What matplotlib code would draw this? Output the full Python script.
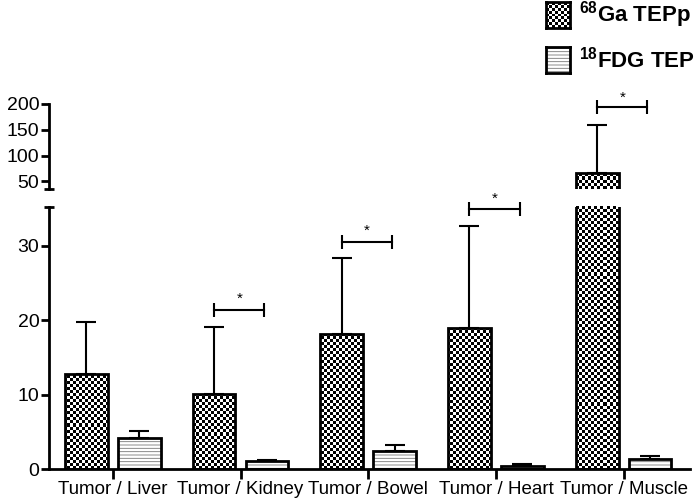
import numpy as np
import matplotlib
matplotlib.use("agg")
import matplotlib.pyplot as plt
from matplotlib.patches import Rectangle

plt.rcParams['font.family'] = ['Liberation Sans', 'DejaVu Sans']
plt.rcParams['mathtext.fontset'] = 'custom'
plt.rcParams['mathtext.rm'] = 'Liberation Sans'
plt.rcParams['mathtext.bf'] = 'Liberation Sans:bold'
plt.rcParams['hatch.linewidth'] = 0.6
plt.rcParams['hatch.color'] = '#777777'

## values
categories = ["Tumor / Liver", "Tumor / Kidney", "Tumor / Bowel", "Tumor / Heart", "Tumor / Muscle"]
ga_mean = [12.8, 10.1, 18.1, 18.9, 67.0]
ga_sd = [7.0, 9.0, 10.2, 13.7, 93.0]
fdg_mean = [4.2, 1.1, 2.4, 0.4, 1.3]
fdg_sd = [0.9, 0.05, 0.8, 0.3, 0.45]
sig_cat = [1, 2, 3, 4]
sig_y = [21.4, 30.5, 34.9, 194.0]
ga_label = r"$\mathbf{^{68}}$Ga TEPp"
fdg_label = r"$\mathbf{^{18}}$FDG TEP"

W, H = 700, 501
fig = plt.figure(figsize=(W / 100, H / 100), dpi=100)
ax_lo = fig.add_axes([49 / W, 1 - 469 / H, 641 / W, 262 / H])
ax_hi = fig.add_axes([49 / W, 1 - 189 / H, 641 / W, 85 / H])
lo_lim = (0, 35.2)
hi_lim = (35, 200)

x = np.arange(len(categories))
off = 0.207
bw = 0.335


def checker(ax, patch, cell=3.0):
    bb = ax.get_position()
    cols = int(round(bb.width * W / cell))
    rows = int(round(bb.height * H / cell))
    arr = np.indices((rows, cols)).sum(axis=0) % 2
    im = ax.imshow(arr, cmap='gray', extent=(0, 1, 0, 1), transform=ax.transAxes,
                   aspect='auto', interpolation='nearest', zorder=2)
    im.set_clip_path(patch)


for ax, lim in ((ax_lo, lo_lim), (ax_hi, hi_lim)):
    ga = ax.bar(x - off, ga_mean, bw, color='white', linewidth=0, zorder=1)
    for p in ga.patches:
        checker(ax, p)
    ax.bar(x - off, ga_mean, bw, fill=False, edgecolor='black', linewidth=2, zorder=3)
    ax.bar(x + off, fdg_mean, bw, color='white', edgecolor='#777777', hatch='-----',
           linewidth=0, zorder=1)
    ax.bar(x + off, fdg_mean, bw, fill=False, edgecolor='black', linewidth=2, zorder=3)

    # only the error bars whose top lands inside this panel
    for xs, m, sd in ((x - off, ga_mean, ga_sd), (x + off, fdg_mean, fdg_sd)):
        m = np.array(m)
        sd = np.array(sd)
        keep = (m + sd > lim[0]) & (m + sd < lim[1])
        if keep.any():
            ax.errorbar(xs[keep], m[keep], yerr=[np.zeros(keep.sum()), sd[keep]], fmt='none',
                        ecolor='black', elinewidth=1.5, capsize=7, capthick=1.5, zorder=0.5)

    for s in ('top', 'right'):
        ax.spines[s].set_visible(False)
    ax.spines['left'].set_linewidth(2)
    ax.tick_params(axis='y', labelsize=14, width=2, length=6, pad=1)
    ax.set_xlim(-0.5, 4.52)

# significance brackets
for c, yv in zip(sig_cat, sig_y):
    ax = ax_hi if yv > 40 else ax_lo
    xl, xr = c - off, c + off - 0.02
    ax.plot([xl, xr], [yv, yv], color='black', lw=1.5, clip_on=False, zorder=4)
    ax.plot([xl, xr], [yv, yv], ls='none', marker='|', ms=10, mew=1.5, color='black',
            clip_on=False, zorder=4)
    dy = 0.5 if ax is ax_lo else 4
    ax.text((xl + xr) / 2, yv + dy, '*', ha='center', va='bottom', fontsize=11,
            clip_on=False)

ax_lo.set_ylim(*lo_lim)
ax_lo.set_yticks([0, 10, 20, 30])
ax_lo.spines['bottom'].set_linewidth(2)
ax_lo.set_xticks(x)
ax_lo.set_xticklabels(categories, fontsize=13.5)
ax_lo.tick_params(axis='x', width=2, length=7, pad=2)

ax_hi.set_ylim(*hi_lim)
ax_hi.set_yticks([50, 100, 150, 200])
ax_hi.spines['bottom'].set_visible(False)
ax_hi.set_xticks([])

# little caps at the axis break
ax_lo.plot([0], [1], marker='_', ms=7, mew=2, color='black', transform=ax_lo.transAxes,
           clip_on=False)
ax_hi.plot([0], [0], marker='_', ms=7, mew=2, color='black', transform=ax_hi.transAxes,
           clip_on=False)

# legend
sw1 = fig.add_axes([546 / W, 1 - 28 / H, 24 / W, 26 / H])
arr = np.indices((9, 8)).sum(axis=0) % 2
sw1.imshow(arr, cmap='gray', aspect='auto', interpolation='nearest')
sw2 = fig.add_axes([546 / W, 1 - 73 / H, 24 / W, 26 / H])
sw2.add_patch(Rectangle((0, 0), 1, 1, facecolor='white', edgecolor='#777777', hatch='-----',
                        linewidth=0))
for sw in (sw1, sw2):
    sw.set_xticks([])
    sw.set_yticks([])
    for s in sw.spines.values():
        s.set_linewidth(2)
fig.text(579 / W, 1 - 15 / H, ga_label, fontsize=16, fontweight='bold', va='center')
fig.text(579 / W, 1 - 60 / H, fdg_label, fontsize=16, fontweight='bold', va='center')

fig.savefig("out.png", dpi=100)
